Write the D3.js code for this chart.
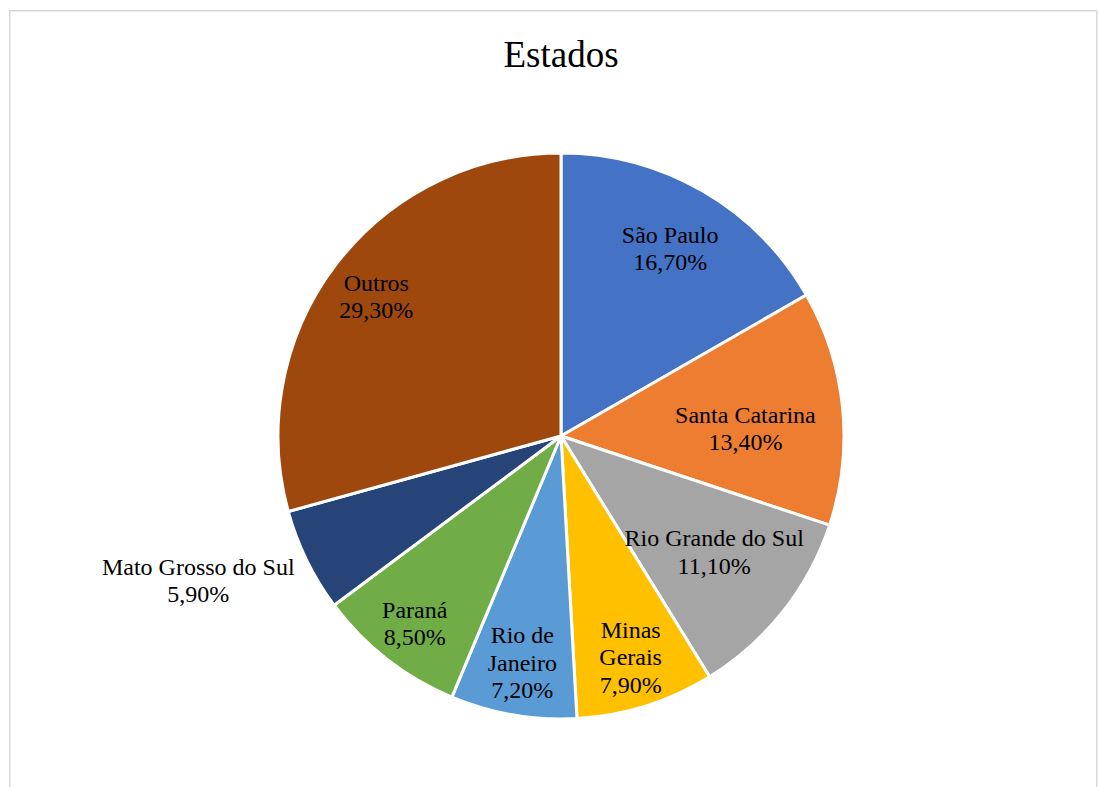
<!DOCTYPE html>
<html>
<head>
<meta charset="utf-8">
<script src="https://cdn.jsdelivr.net/npm/d3@7"></script>
<style>
  html, body { margin: 0; padding: 0; background: #fff; }
  svg { display: block; }
</style>
</head>
<body>
<svg id="chart" width="1099" height="787"></svg>
<script>
// Share of each state (percent), clockwise from 12 o'clock
const states = ["São Paulo", "Santa Catarina", "Rio Grande do Sul", "Minas Gerais",
                "Rio de Janeiro", "Paraná", "Mato Grosso do Sul", "Outros"];
const shares = [16.7, 13.4, 11.1, 7.9, 7.2, 8.5, 5.9, 29.3];
// Label text lines per slice
const labelLines = [
  ["São Paulo"], ["Santa Catarina"], ["Rio Grande do Sul"], ["Minas", "Gerais"],
  ["Rio de", "Janeiro"], ["Paraná"], ["Mato Grosso do Sul"], ["Outros"]
];
const colors = ["#4472C4", "#ED7D31", "#A5A5A5", "#FFC000",
                "#5B9BD5", "#70AD47", "#264478", "#9E480E"];
// Label distance from centre, as a fraction of the radius, plus a small nudge
const labelDist = [0.77, 0.655, 0.69, 0.82, 0.81, 0.84, 1.38, 0.82];
const labelNudge = [[0, 1], [0, 11], [0, -5], [0, 0], [0, 1], [0, 0], [-12, -27], [0, 1]];

const SERIF = "'Liberation Serif', 'Times New Roman', Times, serif";

const svg = d3.select("#chart");
const cx = 561, cy = 436, R = 283;

// Chart area frame
svg.append("rect")
  .attr("x", 9.75).attr("y", 10.75)
  .attr("width", 1087).attr("height", 800)
  .attr("fill", "none").attr("stroke", "#d9d9d9").attr("stroke-width", 1.5);

svg.append("text")
  .attr("x", cx).attr("y", 67)
  .attr("text-anchor", "middle")
  .attr("font-family", SERIF)
  .attr("font-size", 37)
  .attr("fill", "#000")
  .text("Estados");

const fmt = v => v.toFixed(2).replace(".", ",") + "%";

const data = states.map((s, i) => ({ name: s, value: shares[i], i }));
const pie = d3.pie().value(d => d.value).sort(null);
const arcs = pie(data);
const arc = d3.arc().innerRadius(0).outerRadius(R);

const g = svg.append("g").attr("transform", `translate(${cx},${cy})`);

g.selectAll("path.slice")
  .data(arcs)
  .join("path")
  .attr("class", "slice")
  .attr("d", arc)
  .attr("fill", d => colors[d.data.i])
  .attr("stroke", "#fff")
  .attr("stroke-width", 3)
  .attr("stroke-linejoin", "round");

const fs = 24, lh = 27.5;
const labels = g.selectAll("text.lbl")
  .data(arcs)
  .join("text")
  .attr("class", "lbl")
  .attr("text-anchor", "middle")
  .attr("font-family", SERIF)
  .attr("font-size", fs)
  .attr("fill", "#000")
  .attr("transform", d => {
    const a = (d.startAngle + d.endAngle) / 2;
    const r = R * labelDist[d.data.i];
    const [nx, ny] = labelNudge[d.data.i];
    return `translate(${r * Math.sin(a) + nx},${-r * Math.cos(a) + ny})`;
  });

labels.each(function(d) {
  const lines = labelLines[d.data.i].concat([fmt(d.data.value)]);
  const t = d3.select(this);
  const y0 = -((lines.length - 1) * lh) / 2 + fs * 0.33;
  lines.forEach((ln, k) => {
    t.append("tspan").attr("x", 0).attr("y", y0 + k * lh).text(ln);
  });
});
</script>
</body>
</html>
